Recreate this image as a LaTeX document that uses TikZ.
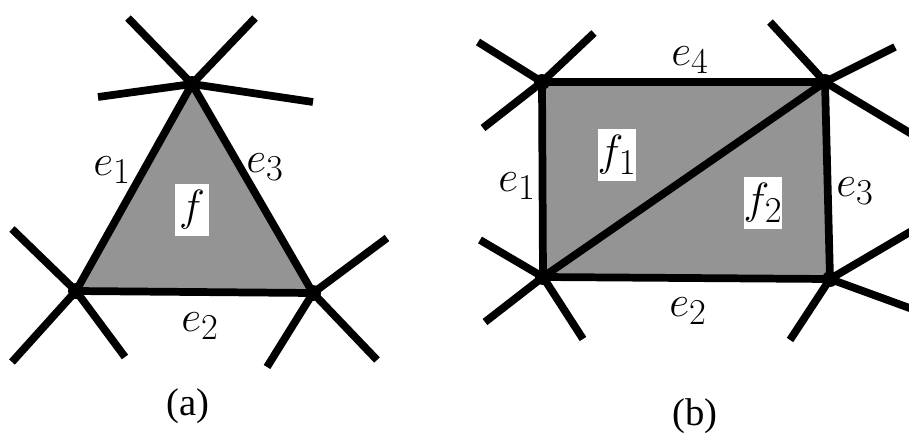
\documentclass[tikz,border=0pt]{standalone}
\usepackage{fontspec}
\setmainfont{Liberation Serif}
\usetikzlibrary{positioning}

\tikzset{
  vtx/.style={circle,fill=black,inner sep=0pt,minimum size=0.32cm},
  lbl/.style={inner sep=1pt,font=\fontsize{32}{36}\selectfont},
  facelbl/.style={fill=white,inner sep=0pt,minimum width=0.68cm,minimum height=1.04cm,font=\fontsize{32}{36}\selectfont},
  face/.style={fill=black!42},
  capt/.style={inner sep=1pt,font=\fontsize{22}{26}\selectfont}
}

\begin{document}
\begin{tikzpicture}[x=0.02cm,y=-0.02cm,line width=4.4pt]
\useasboundingbox (0,0) rectangle (909,437);

% (a) triangle
\coordinate (aT) at (192,84);
\coordinate (aL) at (76,291);
\coordinate (aR) at (313,293);
\fill[face] (aT) -- (aL) -- (aR) -- cycle;
\node[facelbl] (f) at (192,210) {$f$};
\draw (aT) -- (aL) -- (aR) -- cycle;

% spokes of (a)
\coordinate (aT1) at (128,18);
\coordinate (aT2) at (255,18);
\coordinate (aT3) at (98,97);
\coordinate (aT4) at (313,102);
\coordinate (aL1) at (12,229);
\coordinate (aL2) at (12,362);
\coordinate (aL3) at (125,357);
\coordinate (aR1) at (387,238);
\coordinate (aR2) at (267,367);
\coordinate (aR3) at (377,360);
\foreach \v/\w in {aT/aT1,aT/aT2,aT/aT3,aT/aT4,aL/aL1,aL/aL2,aL/aL3,aR/aR1,aR/aR2,aR/aR3}
  \draw (\v) -- (\w);

\node[vtx] at (aT) {};
\node[vtx] at (aL) {};
\node[vtx] at (aR) {};

\node[lbl] (ae1) at (112,170) {$e_1$};
\node[lbl] (ae3) at (265,167) {$e_3$};
\node[lbl] (ae2) at (200,326) {$e_2$};
\node[capt] (capa) at (188,406) {(a)};

% (b) rectangle split into two triangles
\coordinate (bTL) at (542,82);
\coordinate (bTR) at (825,82);
\coordinate (bBL) at (543,277);
\coordinate (bBR) at (830,279);
\fill[face] (bTL) -- (bTR) -- (bBR) -- (bBL) -- cycle;
\node[facelbl] (f1) at (617,155) {$f_1$};
\node[facelbl] (f2) at (763,203) {$f_2$};
\draw (bTL) -- (bTR) -- (bBR) -- (bBL) -- cycle;
\draw (bBL) -- (bTR);

% spokes of (b)
\coordinate (bTL1) at (478,42);
\coordinate (bTL2) at (594,33);
\coordinate (bTL3) at (483,128);
\coordinate (bTR1) at (770,22);
\coordinate (bTR2) at (895,47);
\coordinate (bTR3) at (915,136);
\coordinate (bBL1) at (480,240);
\coordinate (bBL2) at (485,322);
\coordinate (bBL3) at (583,339);
\coordinate (bBR1) at (915,229);
\coordinate (bBR2) at (790,340);
\coordinate (bBR3) at (915,310);
\foreach \v/\w in {bTL/bTL1,bTL/bTL2,bTL/bTL3,bTR/bTR1,bTR/bTR2,bTR/bTR3,bBL/bBL1,bBL/bBL2,bBL/bBL3,bBR/bBR1,bBR/bBR2,bBR/bBR3}
  \draw (\v) -- (\w);

\node[vtx] at (bTL) {};
\node[vtx] at (bTR) {};
\node[vtx] at (bBL) {};
\node[vtx] at (bBR) {};

\node[lbl] (be4) at (690,60) {$e_4$};
\node[lbl] (be1) at (517,186) {$e_1$};
\node[lbl] (be3) at (855,191) {$e_3$};
\node[lbl] (be2) at (688,311) {$e_2$};
\node[capt] (capb) at (695,416) {(b)};
\end{tikzpicture}
\end{document}
